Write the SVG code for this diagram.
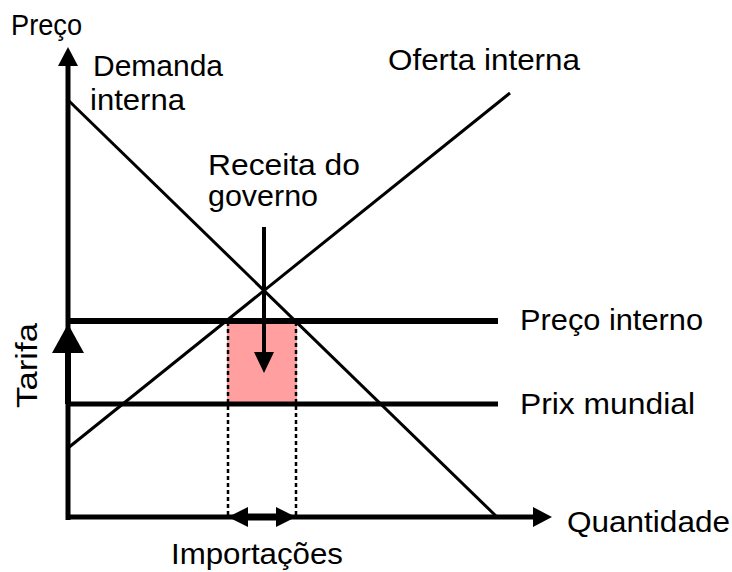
<svg xmlns="http://www.w3.org/2000/svg" width="732" height="572" viewBox="0 0 732 572">
<style>
text{font-family:"Liberation Sans",Arial,sans-serif;font-size:30px;fill:#000}
.ln{stroke:#000;fill:none;stroke-linecap:butt}
.dot{stroke:#000;stroke-width:2.5;stroke-dasharray:4 3;fill:none}
.hd{fill:#000;stroke:none}
</style>
<rect width="732" height="572" fill="#fff"/>
<g id="tariff-revenue">
<rect x="227" y="324" width="70" height="78" fill="#ff9f9f"/>
</g>
<g id="connectors">
<line class="ln" x1="68" y1="100" x2="497" y2="517" stroke-width="3"/>
<line class="ln" x1="68" y1="448" x2="510" y2="93" stroke-width="3"/>
<line class="ln" x1="66" y1="321" x2="498" y2="321" stroke-width="6"/>
<line class="ln" x1="66" y1="404" x2="498" y2="404" stroke-width="5"/>
<line class="dot" x1="228" y1="322" x2="228" y2="516"/>
<line class="dot" x1="296" y1="322" x2="296" y2="516"/>
<line class="ln" x1="68" y1="520" x2="68" y2="62" stroke-width="5"/>
<polygon class="hd" points="68,47 58,66 78,66"/>
<line class="ln" x1="66" y1="517" x2="535" y2="517" stroke-width="5"/>
<polygon class="hd" points="552,517 533,507 533,527"/>
<line class="ln" x1="264" y1="227" x2="264" y2="355" stroke-width="4"/>
<polygon class="hd" points="264,373 254,352 274,352"/>
<line class="ln" x1="68" y1="404" x2="68" y2="348" stroke-width="6"/>
<polygon class="hd" points="68,324 52,353 84,353"/>
<line class="ln" x1="244" y1="517" x2="280" y2="517" stroke-width="7"/>
<polygon class="hd" points="228,517 248,507 248,527"/>
<polygon class="hd" points="296,517 276,507 276,527"/>
</g>
<g id="labels">
<text x="11" y="35" textLength="71" lengthAdjust="spacingAndGlyphs">Preço</text>
<text x="93" y="76" textLength="130" lengthAdjust="spacingAndGlyphs">Demanda</text>
<text x="90" y="110" textLength="95" lengthAdjust="spacingAndGlyphs">interna</text>
<text x="388" y="70" textLength="192" lengthAdjust="spacingAndGlyphs">Oferta interna</text>
<text x="208" y="175" textLength="152" lengthAdjust="spacingAndGlyphs">Receita do</text>
<text x="208" y="206" textLength="110" lengthAdjust="spacingAndGlyphs">governo</text>
<text x="520" y="330" textLength="183" lengthAdjust="spacingAndGlyphs">Preço interno</text>
<text x="520" y="414" textLength="175" lengthAdjust="spacingAndGlyphs">Prix mundial</text>
<text x="567" y="532" textLength="163" lengthAdjust="spacingAndGlyphs">Quantidade</text>
<text x="171" y="564" textLength="172" lengthAdjust="spacingAndGlyphs">Importações</text>
<text transform="translate(37,408) rotate(-90)" x="0" y="0" textLength="85" lengthAdjust="spacingAndGlyphs">Tarifa</text>
</g>
</svg>
